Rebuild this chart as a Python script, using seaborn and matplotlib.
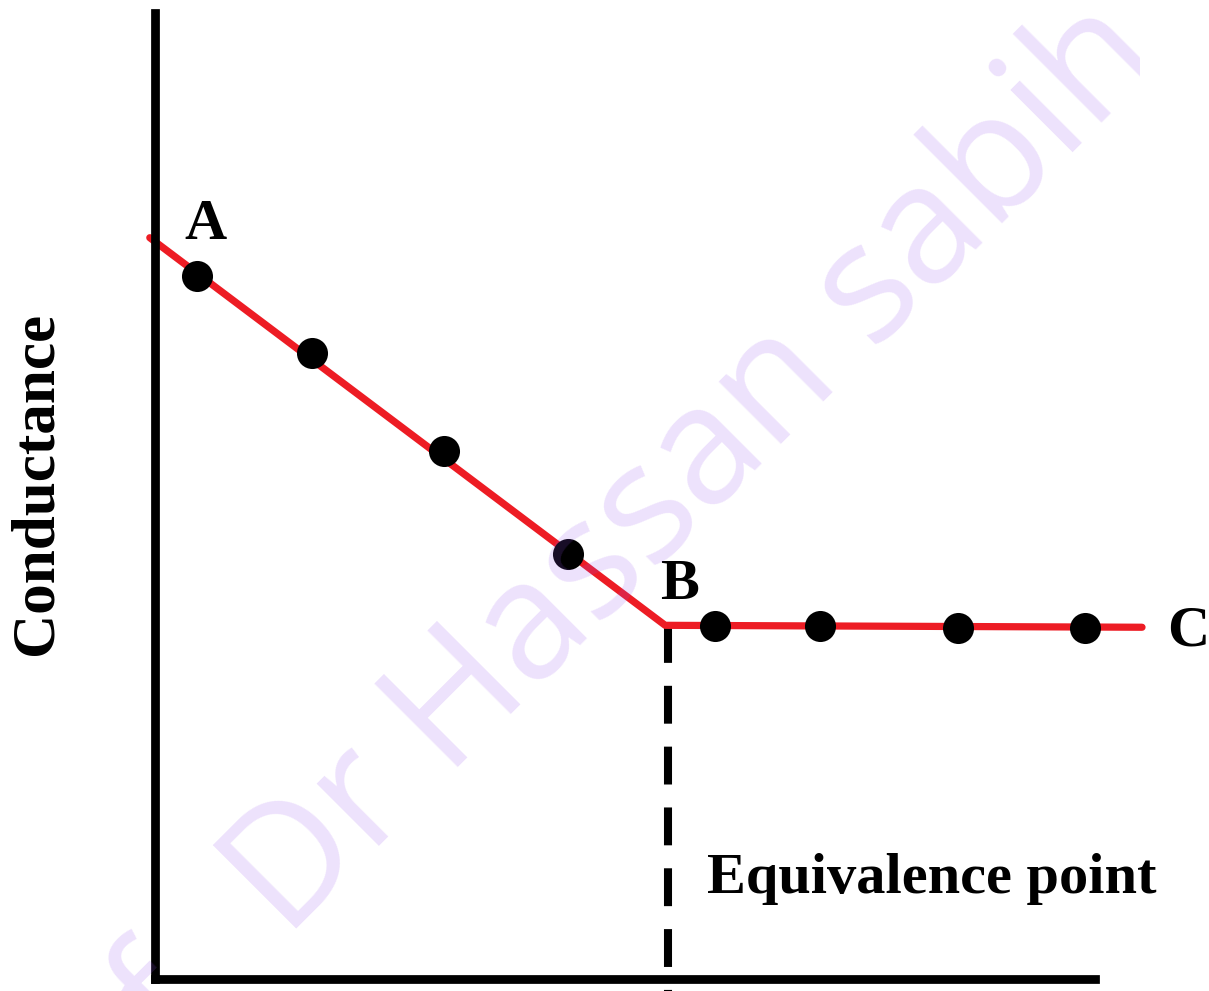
import matplotlib
matplotlib.use("Agg")
import matplotlib.pyplot as plt
import seaborn as sns
from matplotlib.transforms import Bbox, TransformedBbox

# --------------------------
# Datos
# --------------------------
# Línea roja (tramo descendente A-B y tramo horizontal B-C)
linea_vol = [-0.05, 5.43, 10.5]
linea_cond = [7.65, 3.65, 3.63]

# Puntos negros medidos
puntos_vol = [0.45, 1.67, 3.08, 4.40, 5.96, 7.08, 8.54, 9.89]
puntos_cond = [7.25, 6.46, 5.45, 4.39, 3.64, 3.64, 3.62, 3.62]

# Punto de equivalencia
eq_vol = 5.46
eq_cond = 3.65

etiquetas = ["A", "B", "C"]
texto_eq = "Equivalence point"
texto_y = "Conductance"
marca_agua = "Dr Hassan sabih"

W, H = 1209, 991


def px(x, y):
    # convertir píxeles de la imagen a fracción de figura
    return x / W, 1 - y / H


sns.set_theme(style="white")
plt.rcParams["font.family"] = ["Liberation Serif", "DejaVu Serif"]

fig = plt.figure(figsize=(W / 100, H / 100), dpi=100)
ax = fig.add_axes([154.5 / W, (H - 979) / H, (1095 - 154.5) / W, (979 - 13) / H])
ax.set_xlim(0, 10)
ax.set_ylim(0, 10 * (979 - 13) / (979 - 10))

# Línea roja
sns.lineplot(x=linea_vol, y=linea_cond, ax=ax, color="#ED1C24", linewidth=5.2,
             clip_on=False, zorder=2, sort=False)

# Puntos
sns.scatterplot(x=puntos_vol, y=puntos_cond, ax=ax, color="black", s=500,
                linewidth=0, zorder=3, clip_on=False)

# Línea discontinua del punto de equivalencia
ax.plot([eq_vol, eq_vol], [eq_cond, -0.13], color="black", linewidth=5.8,
        dashes=(4.7, 2.85), dash_capstyle="butt", clip_on=False, zorder=1)

# Ejes
for lado in ["top", "right"]:
    ax.spines[lado].set_visible(False)
for lado in ["left", "bottom"]:
    ax.spines[lado].set_color("black")
    ax.spines[lado].set_linewidth(6.3)
    ax.spines[lado].set_capstyle("projecting")
ax.set_xticks([])
ax.set_yticks([])
ax.set_xlabel("")
ax.set_ylabel("")

# Textos
estilo = dict(fontsize=42, fontweight="bold", color="black", va="baseline", ha="left")
fig.text(*px(184, 239), etiquetas[0], **estilo)
fig.text(*px(660, 599), etiquetas[1], **estilo)
fig.text(*px(1167, 645), etiquetas[2], **estilo)
fig.text(*px(707, 893), texto_eq, **estilo)
fig.text(*px(37, 483), texto_y, fontsize=44, fontweight="bold", color="black",
         rotation=90, ha="center", va="center")

# Marca de agua (recortada a la derecha como en la imagen)
wm = dict(fontsize=118, color="#9650F0", alpha=0.17, rotation=45,
          rotation_mode="anchor", va="baseline", family="Open Sans", zorder=10)
recorte = TransformedBbox(Bbox([[0, 0], [1140 / W, 1]]), fig.transFigure)
for t in [fig.text(*px(286, 940), marca_agua, ha="left", **wm),
          fig.text(*px(212, 1014), "of", ha="right", **wm)]:
    t.set_clip_box(recorte)
    t.set_clip_on(True)

fig.savefig("out.png", dpi=100)
